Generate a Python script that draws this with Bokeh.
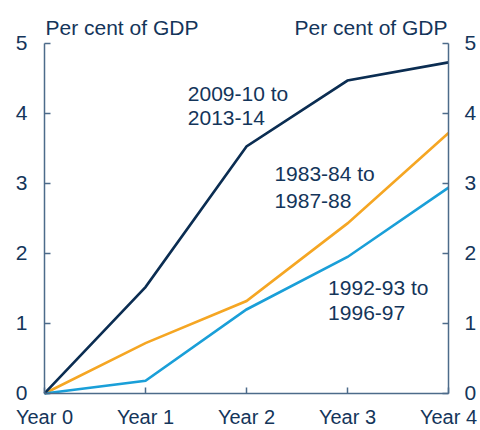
from bokeh.plotting import figure
from bokeh.models import Range1d, LinearAxis, FixedTicker, Label
from bokeh.embed import file_html
from bokeh.resources import INLINE

years = [0, 1, 2, 3, 4]
year_labels = ["Year 0", "Year 1", "Year 2", "Year 3", "Year 4"]
s_2009 = [0, 1.52, 3.53, 4.47, 4.73]
s_1983 = [0, 0.72, 1.32, 2.43, 3.72]
s_1992 = [0, 0.18, 1.20, 1.95, 2.94]
y_ticks = [0, 1, 2, 3, 4, 5]
unit_label = "Per cent of GDP"

NAVY = "#0b2d52"
ORANGE = "#f5a623"
BLUE = "#1a9fd8"
TEXT = "#14355a"
AXIS = "#4d6b8a"
FONT = "Liberation Sans"
FS = "21px"
BASE_FIX = 5  # px lift so the alphabetic baseline lands where intended

# The frame covers the whole canvas; axes are pinned at data locations,
# ranges extend past the data to leave room for the labels.
p = figure(width=480, height=430, output_backend="svg", toolbar_location=None,
           x_range=Range1d(-0.4356, 4.3168), y_range=Range1d(-0.529, 5.614),
           x_axis_location=None, y_axis_location=None,
           min_border_left=0, min_border_right=0, min_border_top=0, min_border_bottom=0)
p.outline_line_color = None
p.grid.visible = False
p.background_fill_color = "white"
p.border_fill_color = "white"

def style_axis(ax, ticks, standoff, fs=FS):
    ax.ticker = FixedTicker(ticks=ticks)
    ax.axis_line_color = AXIS
    ax.axis_line_width = 1.5
    ax.major_tick_line_color = AXIS
    ax.major_tick_line_width = 1.5
    ax.major_tick_in = 6
    ax.major_tick_out = 0
    ax.minor_tick_line_color = None
    ax.major_label_text_font = FONT
    ax.major_label_text_font_size = fs
    ax.major_label_text_color = TEXT
    ax.major_label_standoff = standoff

left = LinearAxis(bounds=(0, 5), fixed_location=0)
style_axis(left, y_ticks, 17)
p.add_layout(left, "left")
right = LinearAxis(bounds=(0, 5), fixed_location=4)
style_axis(right, y_ticks, 16)
p.add_layout(right, "right")

bottom = LinearAxis(bounds=(0, 4), fixed_location=0)
style_axis(bottom, years, 13, "20px")
bottom.major_label_overrides = {i: lab for i, lab in zip(years, year_labels)}
p.add_layout(bottom, "below")

for ys, col in [(s_1983, ORANGE), (s_1992, BLUE), (s_2009, NAVY)]:
    p.line(years, ys, line_color=col, line_width=2.6, line_join="miter")

def add_label(x, y, text, align="left", xo=0, yo=0):
    p.add_layout(Label(x=x, y=y, text=text, x_offset=xo, y_offset=yo + BASE_FIX,
                       text_font=FONT, text_font_size=FS, text_color=TEXT,
                       text_align=align, text_baseline="alphabetic"))

add_label(0, 5, unit_label, "left", 1, 11)
add_label(4, 5, unit_label, "right", -1, 11)

add_label(1.419, 4.214, "2009-10 to")
add_label(1.419, 4.214, "2013-14", yo=-25)
add_label(2.276, 3.071, "1983-84 to")
add_label(2.276, 3.071, "1987-88", yo=-27)
add_label(2.808, 1.443, "1992-93 to")
add_label(2.808, 1.443, "1996-97", yo=-26)

open("out.html", "w").write(file_html(p, INLINE))
